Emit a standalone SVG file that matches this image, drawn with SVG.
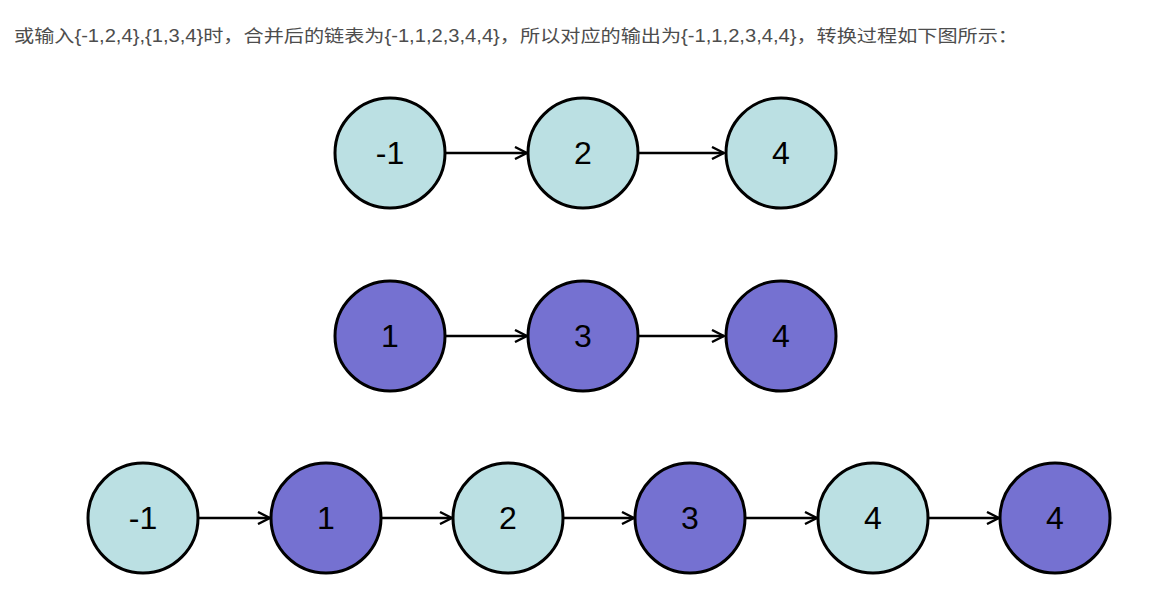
<svg xmlns="http://www.w3.org/2000/svg" width="1159" height="599" viewBox="0 0 1159 599">
<style>
.cap{font-family:"Liberation Sans","Noto Sans CJK SC",sans-serif;font-size:17.5px;fill:#4d4d4d}
.n circle{stroke:#000;stroke-width:3}
.a{fill:#bbe0e3}
.b{fill:#7571d1}
.n text{font-family:"Liberation Sans",Arial,sans-serif;font-size:32px;fill:#000;text-anchor:middle;dominant-baseline:central}
.c line{stroke:#000;stroke-width:2.5;marker-end:url(#ar)}
</style>
<defs>
<marker id="ar" viewBox="0 0 14 14" refX="13" refY="7" markerWidth="14" markerHeight="14" markerUnits="userSpaceOnUse" orient="auto">
<path d="M1,1 L13,7 L1,13" fill="none" stroke="#000" stroke-width="2.4"/>
</marker>
</defs>
<rect width="1159" height="599" fill="#fff"/>
<text class="cap" x="14" y="42" textLength="1004" lengthAdjust="spacingAndGlyphs">或输入{-1,2,4},{1,3,4}时，合并后的链表为{-1,1,2,3,4,4}，所以对应的输出为{-1,1,2,3,4,4}，转换过程如下图所示：</text>
<g class="c">
<line x1="445" y1="153" x2="527" y2="153"/>
<line x1="638" y1="153" x2="724" y2="153"/>
<line x1="445" y1="336" x2="527" y2="336"/>
<line x1="638" y1="336" x2="724" y2="336"/>
<line x1="198" y1="518" x2="270" y2="518"/>
<line x1="381" y1="518" x2="452" y2="518"/>
<line x1="563" y1="518" x2="634" y2="518"/>
<line x1="745" y1="518" x2="817" y2="518"/>
<line x1="928" y1="518" x2="999" y2="518"/>
</g>
<g id="r1n1" class="n"><circle class="a" cx="390" cy="153" r="55"/><text x="390" y="153">-1</text></g>
<g id="r1n2" class="n"><circle class="a" cx="583" cy="153" r="55"/><text x="583" y="153">2</text></g>
<g id="r1n3" class="n"><circle class="a" cx="781" cy="153" r="55"/><text x="781" y="153">4</text></g>
<g id="r2n1" class="n"><circle class="b" cx="390" cy="336" r="55"/><text x="390" y="336">1</text></g>
<g id="r2n2" class="n"><circle class="b" cx="583" cy="336" r="55"/><text x="583" y="336">3</text></g>
<g id="r2n3" class="n"><circle class="b" cx="781" cy="336" r="55"/><text x="781" y="336">4</text></g>
<g id="r3n1" class="n"><circle class="a" cx="143" cy="518" r="55"/><text x="143" y="518">-1</text></g>
<g id="r3n2" class="n"><circle class="b" cx="326" cy="518" r="55"/><text x="326" y="518">1</text></g>
<g id="r3n3" class="n"><circle class="a" cx="508" cy="518" r="55"/><text x="508" y="518">2</text></g>
<g id="r3n4" class="n"><circle class="b" cx="690" cy="518" r="55"/><text x="690" y="518">3</text></g>
<g id="r3n5" class="n"><circle class="a" cx="873" cy="518" r="55"/><text x="873" y="518">4</text></g>
<g id="r3n6" class="n"><circle class="b" cx="1055" cy="518" r="55"/><text x="1055" y="518">4</text></g>
</svg>
